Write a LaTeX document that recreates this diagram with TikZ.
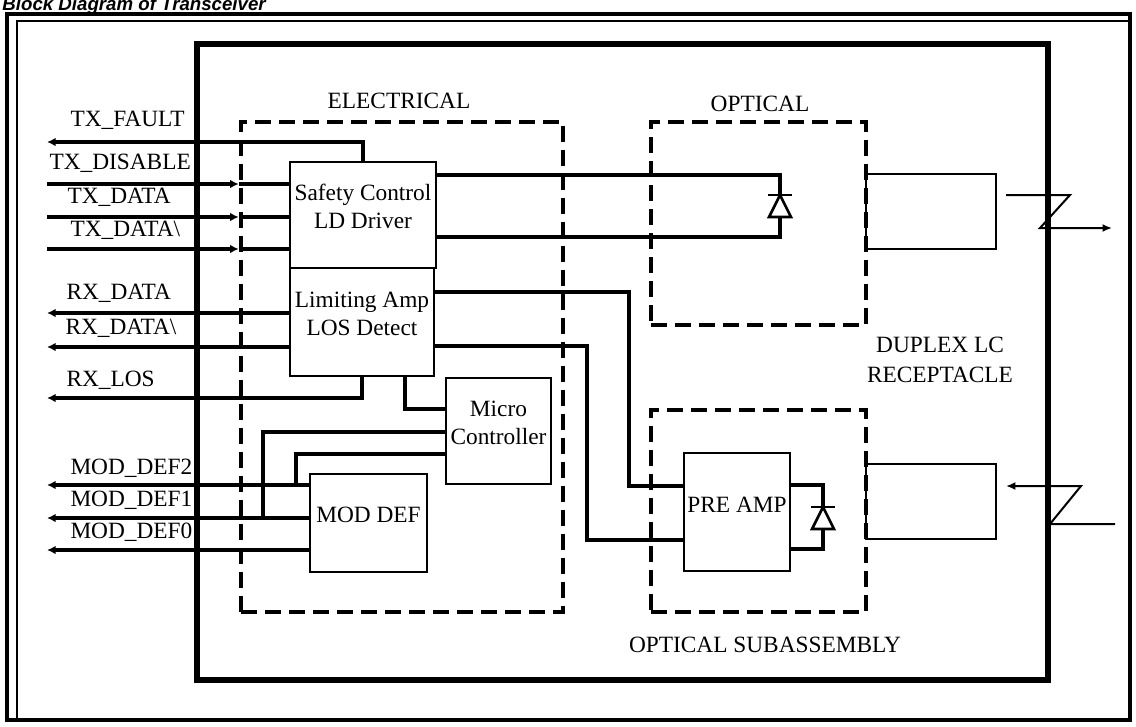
\documentclass[tikz,border=0pt]{standalone}
\usepackage{fontspec}
\setmainfont{Liberation Serif}
\newfontfamily\titlefont{Liberation Sans}
\usetikzlibrary{arrows.meta,fit,calc}

\tikzset{every picture/.style={line width=0.75pt}}
\tikzset{
  box/.style={draw, line width=1.3pt, inner sep=0pt, align=center, font=\fontsize{17.5}{21}\selectfont},
  zone/.style={draw, line width=3.4pt, dash pattern={on 12pt off 6pt}, inner sep=0pt},
  sig/.style={line width=3pt},
  fibre/.style={line width=1.5pt},
  outtip/.style={-{Latex[length=6.5pt,width=6.5pt]}},
  lbl/.style={inner sep=0pt, align=center, font=\fontsize{17.5}{22.5}\selectfont},
  diode/.style={draw, fill=white, line width=2pt, line join=miter},
}

\begin{document}
\begin{tikzpicture}[x=0.75pt,y=0.75pt,yscale=-1]
	\useasboundingbox (0,0) rectangle (1136,726);
	\clip (0,0) rectangle (1136,726);
	
	% Title
	\node[anchor=base west, inner sep=0pt, font=\titlefont\bfseries\itshape\fontsize{14}{16}\selectfont] (title) at (2,10) {Block Diagram of Transceiver};
	
	%Shape: Frames
	\draw[line width=3pt] (7,14) rectangle (1130,720);
	\draw[line width=2pt] (17,21) rectangle (1130,720);
	\draw[line width=4.5pt] (197,44) rectangle (1048,680);
	
	%Shape: Dashed zones
	\node[zone, fit={(241,122) (563,612)}] (elec) {};
	\node[zone, fit={(651,122) (866,325)}] (opt) {};
	\node[zone, fit={(651,410) (866,612)}] (osa) {};
	
	% Text Node
	\node[lbl] (eleclbl) at (399,101) {ELECTRICAL};
	\node[lbl] (optlbl) at (760,104) {OPTICAL};
	\node[lbl] (lclbl) at (940,360) {DUPLEX LC\\RECEPTACLE};
	\node[lbl] (osalbl) at (765,645) {OPTICAL SUBASSEMBLY};
	
	%Shape: Blocks
	\node[box, fit={(290,162) (436,268)}] (sc) {Safety Control\\LD Driver};
	\node[box, fit={(290,268) (434,376)}] (la) {Limiting Amp\\LOS Detect};
	\node[box, fit={(446,378) (551,484)}] (mc) {Micro\\Controller};
	\node[box, fit={(310,474) (427,572)}] (md) {MOD DEF};
	\node[box, fit={(684,453) (790,571)}] (pa) {PRE AMP};
	\node[box, fit={(866,174) (996,249)}] (rtx) {};
	\node[box, fit={(866,464) (996,539)}] (rrx) {};
	
	% Pin ends
	\coordinate (txf) at (47,142);
	\coordinate (txd) at (47,184);
	\coordinate (txa) at (47,217);
	\coordinate (txb) at (47,249);
	\coordinate (rxa) at (47,313);
	\coordinate (rxb) at (47,347);
	\coordinate (rxl) at (47,398);
	\coordinate (mdb) at (47,485);
	\coordinate (mda) at (47,518);
	\coordinate (mdo) at (47,550);
	
	% Pin names
	\node[lbl, anchor=west] (ntxf) at (70,120) {TX\_FAULT};
	\node[lbl, anchor=west] (ntxd) at (49,163) {TX\_DISABLE};
	\node[lbl, anchor=west] (ntxa) at (67,197) {TX\_DATA};
	\node[lbl, anchor=west] (ntxb) at (70,230) {TX\_DATA\textbackslash};
	\node[lbl, anchor=west] (nrxa) at (66,293) {RX\_DATA};
	\node[lbl, anchor=west] (nrxb) at (65,328) {RX\_DATA\textbackslash};
	\node[lbl, anchor=west] (nrxl) at (66,380) {RX\_LOS};
	\node[lbl, anchor=west] (nmdb) at (70,468) {MOD\_DEF2};
	\node[lbl, anchor=west] (nmda) at (70,500) {MOD\_DEF1};
	\node[lbl, anchor=west] (nmdo) at (70,532) {MOD\_DEF0};
	
	%Straight Lines: transmit side
	\draw[sig, outtip] (sc.north) |- (txf);
	\foreach \p in {txd,txa,txb}{
		\draw[sig, outtip] (\p) -- (\p -| elec.west);
		\draw[sig] (\p -| elec.west) -- (\p -| sc.west);
	}
	
	%Straight Lines: receive side
	\draw[sig, outtip] (rxa -| la.west) -- (rxa);
	\draw[sig, outtip] (rxb -| la.west) -- (rxb);
	\draw[sig, outtip] (la.south) |- (rxl);
	\foreach \p in {mdb,mda,mdo}
		\draw[sig, outtip] (\p -| md.west) -- (\p);
	
	%Straight Lines: micro controller
	\draw[sig] ([xshift=32pt]la.south) |- ($(mc.north west)!0.3!(mc.south west)$);
	\draw[sig] ($(mc.north west)!0.51!(mc.south west)$) -| (263,0 |- mda);
	\draw[sig] ($(mc.north west)!0.71!(mc.south west)$) -| (296,0 |- mdb);
	
	%Straight Lines: limiting amp to pre amp
	\draw[sig] (la.east |- 0,292) -- (629,292) |- ($(pa.north west)!0.28!(pa.south west)$);
	\draw[sig] (la.east |- 0,346) -- (587,346) |- ($(pa.north west)!0.73!(pa.south west)$);
	
	%Laser diode
	\coordinate (ldt) at (780,175);
	\coordinate (ldb) at (780,237);
	\draw[sig] (sc.east |- ldt) -- (ldt) -- (ldb) -- (sc.east |- ldb);
	\draw[diode] (769,217) -- (791,217) -- (780,195) -- cycle;
	\draw[line width=2pt] (768,195) -- (792,195);
	
	%Photo diode
	\coordinate (pdt) at (823,485);
	\coordinate (pdb) at (823,549);
	\draw[sig] (pa.east |- pdt) -- (pdt) -- (pdb) -- (pa.east |- pdb);
	\draw[diode] (812,529) -- (834,529) -- (823,507) -- cycle;
	\draw[line width=2pt] (811,507) -- (835,507);
	
	%Fibres
	\coordinate (ftx) at (1006,195);
	\coordinate (frx) at (1006,486);
	\draw[fibre, -{Latex[length=7pt,width=6pt]}] (ftx) -- (1070,195) -- (1040,228) -- (1112,228);
	\draw[fibre, -{Latex[length=7pt,width=6pt]}] (1115,524) -- (1050,524) -- (1081,486) -- (frx);
	
\end{tikzpicture}
\end{document}
